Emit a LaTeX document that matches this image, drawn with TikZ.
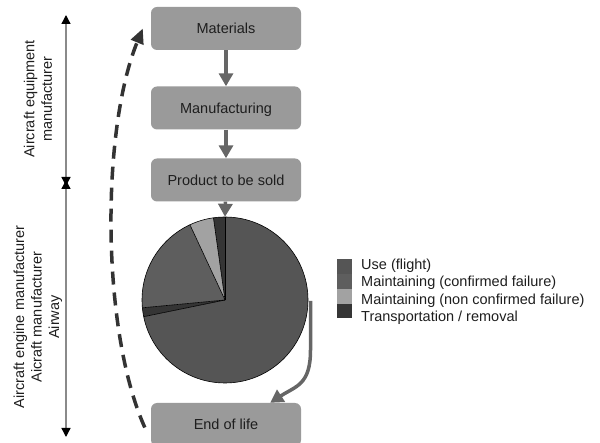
\documentclass[tikz,border=0pt]{standalone}
\usepackage{fontspec}
\setmainfont{Liberation Sans}
\usetikzlibrary{arrows.meta}
\definecolor{boxgray}{HTML}{9A9A9A}
\definecolor{arrgray}{HTML}{666666}
\definecolor{usec}{HTML}{555555}
\definecolor{maintc}{HTML}{5E5E5E}
\definecolor{nonc}{HTML}{A2A2A2}
\definecolor{transc}{HTML}{353535}
\definecolor{dashc}{HTML}{333333}
\definecolor{txt}{HTML}{1E1E1E}
\definecolor{axisgray}{HTML}{8A8A8A}
\begin{document}
\begin{tikzpicture}[x=1pt,y=-1pt,
  every node/.style={font=\fontsize{14.5}{17.5}\selectfont, text=txt},
  stage/.style={fill=boxgray, rounded corners=6pt, minimum width=150pt, minimum height=43pt,
    inner sep=0pt, text height=11pt, text depth=0pt},
  flow/.style={draw=arrgray, line width=3.5pt, -{Triangle[length=13pt,width=14pt]}},
  span/.style={draw=axisgray, line width=1.3pt,
    {Triangle[length=9pt,width=9pt,color=black]}-{Triangle[length=9pt,width=9pt,color=black]}},
  slice/.style={draw=black, line width=0.6pt},
  backloop/.style={draw=dashc, line width=3.5pt, dash pattern=on 13pt off 8pt,
    -{Triangle[length=15pt,width=13pt]}},
  legtext/.style={anchor=base west, inner sep=0pt},
  sidelabel/.style={rotate=90, align=center, inner sep=0pt}]
\useasboundingbox (0,0) rectangle (600,443);

% stages
\node[stage] (mat) at (226,28.5) {Materials};
\node[stage] (man) at (226,108) {Manufacturing};
\node[stage] (prod) at (226,180) {Product to be sold};
\node[stage] (eol) at (226,424.5) {End of life};

% pie
\node[circle, minimum size=166pt, inner sep=0pt] (pie) at (225,300) {};
\fill[usec] (pie.center) -- ++(-90:83) arc[start angle=-90, end angle=168.4, radius=83] -- cycle;
\fill[transc] (pie.center) -- ++(168.4:83) arc[start angle=168.4, end angle=174.6, radius=83] -- cycle;
\fill[maintc] (pie.center) -- ++(174.6:83) arc[start angle=174.6, end angle=245, radius=83] -- cycle;
\fill[nonc] (pie.center) -- ++(245:83) arc[start angle=245, end angle=262, radius=83] -- cycle;
\fill[transc] (pie.center) -- ++(262:83) arc[start angle=262, end angle=270, radius=83] -- cycle;
\draw[slice] (pie.center) circle[radius=83];
\foreach \a in {-90,168.4,174.6,245,262}
  \draw[slice] (pie.center) -- ++(\a:83);

% flow arrows
\draw[flow] (mat) -- (man);
\draw[flow] (man) -- (prod);
\draw[flow] (prod) -- (pie.north);
\coordinate (pout) at (310.5,301);
\draw[flow] (pout) -- (310.5,350) .. controls (310.5,385) and (296,386) .. ([xshift=-31pt]eol.north east);

% dashed back loop
\draw[backloop] ([xshift=-6pt,yshift=-3pt]eol.west) .. controls (101,330) and (101,130) .. ([xshift=-8pt]mat.west);

% legend
\fill[usec] (337,259) rectangle (352,274);
\fill[maintc] (337,274) rectangle (352,289);
\fill[nonc] (337,289) rectangle (352,304);
\fill[transc] (337,304) rectangle (352,318.5);
\node[legtext] (l1) at (361,269.5) {Use (flight)};
\node[legtext] (l2) at (361,287) {Maintaining (confirmed failure)};
\node[legtext] (l3) at (361,304.5) {Maintaining (non confirmed failure)};
\node[legtext] (l4) at (361,322) {Transportation / removal};

% left axis
\coordinate (atop) at (66,15);
\coordinate (amid) at (66,183);
\coordinate (abot) at (66,437);
\draw[span] (atop) -- ([yshift=-3pt]amid);
\draw[span] ([yshift=3pt]amid) -- (abot);
\node[sidelabel] (lab1) at (38,99) {Aircraft equipment\\manufacturer};
\node[sidelabel] (lab2) at (38,317) {Aircraft engine manufacturer\\Aicraft manufacturer\\Airway};
\end{tikzpicture}
\end{document}
